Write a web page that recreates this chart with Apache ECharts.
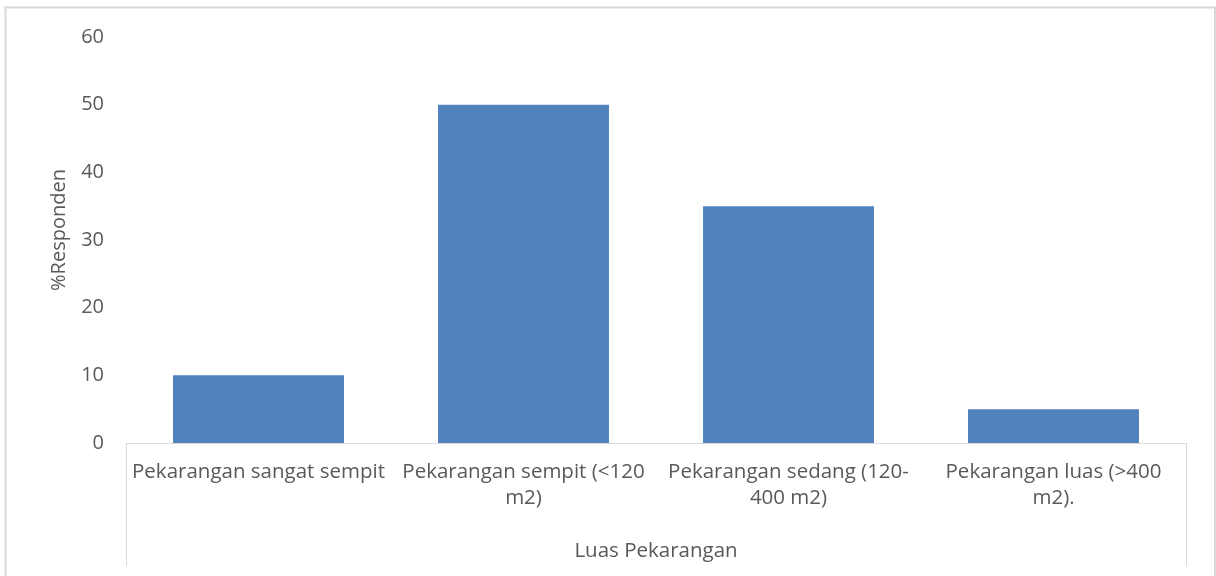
<!DOCTYPE html>
<html>
<head>
<meta charset="utf-8">
<script src="https://cdn.jsdelivr.net/npm/echarts@6/dist/echarts.min.js"></script>
<style>
  html, body { margin: 0; padding: 0; background: #ffffff; }
  #chart { width: 1216px; height: 576px; }
</style>
</head>
<body>
<div id="chart"></div>
<script>
// Share of respondents by yard size
const categories = [
  'Pekarangan sangat sempit',
  'Pekarangan sempit (<120\nm2)',
  'Pekarangan sedang (120-\n400 m2)',
  'Pekarangan luas (>400\nm2).'
];
const respondentPct = [10, 50, 35, 5];
const yTicks = { min: 0, max: 60, interval: 10 };

const FONT = 'Open Sans';
const TEXT = '#595959';
const LINE = '#d9d9d9';

const chart = echarts.init(document.getElementById('chart'));

const gridLeft = 126, gridRight = 30, gridTop = 37, gridBottom = 133;

chart.setOption({
  animation: false,
  textStyle: { fontFamily: FONT },
  grid: { left: gridLeft, right: gridRight, top: gridTop, bottom: gridBottom },
  xAxis: {
    type: 'category',
    data: categories,
    name: 'Luas Pekarangan',
    nameLocation: 'middle',
    nameGap: 98,
    nameTextStyle: { color: TEXT, fontSize: 20.5, fontFamily: FONT },
    axisLine: { lineStyle: { color: LINE, width: 1 } },
    axisTick: { show: false },
    axisLabel: {
      color: TEXT, fontSize: 20.5, fontFamily: FONT,
      margin: 16, interval: 0, lineHeight: 26, align: 'center'
    }
  },
  yAxis: {
    type: 'value',
    min: yTicks.min, max: yTicks.max, interval: yTicks.interval,
    name: '%Responden',
    nameLocation: 'middle',
    nameGap: 57,
    nameRotate: 90,
    nameTextStyle: { color: TEXT, fontSize: 20, fontFamily: FONT, padding: [0, 0, 0, 20] },
    axisLine: { show: false },
    axisTick: { show: false },
    splitLine: { show: false },
    axisLabel: { color: TEXT, fontSize: 20, fontFamily: FONT, margin: 22 }
  },
  series: [{
    type: 'bar',
    data: respondentPct,
    barWidth: '64.5%',
    itemStyle: { color: '#4f81bd' }
  }],
  graphic: [
    {
      type: 'rect',
      shape: { x: 5.5, y: 7.5, width: 1209.5, height: 600 },
      style: { fill: 'none', stroke: LINE, lineWidth: 2 },
      silent: true
    },
    {
      type: 'line',
      shape: { x1: gridLeft + 0.5, y1: 576 - gridBottom, x2: gridLeft + 0.5, y2: 566 },
      style: { stroke: LINE, lineWidth: 1 }
    },
    {
      type: 'line',
      shape: { x1: 1216 - gridRight + 0.5, y1: 576 - gridBottom, x2: 1216 - gridRight + 0.5, y2: 566 },
      style: { stroke: LINE, lineWidth: 1 }
    }
  ]
});
</script>
</body>
</html>
